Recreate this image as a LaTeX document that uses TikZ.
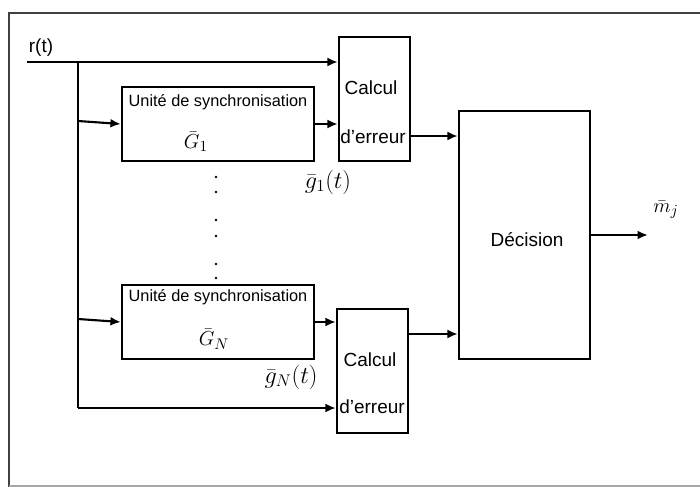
\documentclass[tikz,border=0pt]{standalone}
\usepackage{amsmath, amssymb}
\usepackage{fontspec}
\setmainfont{Liberation Sans}
\usetikzlibrary{arrows.meta}

\begin{document}
\begin{tikzpicture}[x=0.025cm, y=-0.025cm,
  bloc/.style={draw, line width=1.6pt, inner sep=0},
  fl/.style={line width=1.5pt, -{Latex[length=2.6mm, width=2.2mm]}},
  txt/.style={inner sep=0, font=\fontsize{13.5}{15}\selectfont},
  petit/.style={inner sep=0, font=\fontsize{11.6}{13}\selectfont},
  maths/.style={inner sep=0, font=\fontsize{18}{20}\selectfont}]
  \useasboundingbox (0,0) rectangle (700,487);
  % cadre
  \draw[line width=2pt, black!75] (8,13) -- (700,13);
  \draw[line width=2pt, black!75] (9,13) -- (9,487);
  \draw[line width=1pt, black!35] (9,486) -- (700,486);

  % blocs
  \node[bloc, minimum width=4.8cm, minimum height=1.85cm] (s1) at (218,124) {};
  \node[bloc, minimum width=4.8cm, minimum height=1.85cm] (sN) at (218,322) {};
  \node[bloc, minimum width=1.775cm, minimum height=3.1cm] (c1) at (374.5,99) {};
  \node[bloc, minimum width=1.775cm, minimum height=3.1cm] (cN) at (372.5,371) {};
  \node[bloc, minimum width=3.275cm, minimum height=6.2cm] (dec) at (524.5,235) {};

  % textes
  \node[petit] (t1) at (218,102) {Unité de synchronisation};
  \node[petit] (tN) at (218,297) {Unité de synchronisation};
  \node[maths, font=\fontsize{15}{17}\selectfont] (G1) at (196,142) {$\bar{G}_1$};
  \node[maths, font=\fontsize{15}{17}\selectfont] (GN) at (214,339) {$\bar{G}_N$};
  \node[txt] (ca1) at (371,88) {Calcul};
  \node[txt] (er1) at (373,137) {d'erreur};
  \node[txt] (caN) at (370,360) {Calcul};
  \node[txt] (erN) at (372,407) {d'erreur};
  \node[txt] (d) at (527,240) {Décision};
  \node[txt] (r) at (41,48) {r(t)};
  \node[maths] (g1) at (328,182) {$\bar{g}_1(t)$};
  \node[maths] (gN) at (291,377) {$\bar{g}_N(t)$};
  \node[maths, font=\fontsize{15}{17}\selectfont] (m) at (666,210) {$\bar{m}_j$};

  % points de suspension
  \foreach \y in {177,192,220,236,264,278}
    \fill (216,\y) circle (0.035cm);

  % liaisons
  \coordinate (in) at (27,62);
  \coordinate (j) at (78,62);
  \coordinate (bas) at (78,408);
  \coordinate (a1) at (78,121);
  \coordinate (aN) at (78,319);
  \coordinate (c1o) at (410,136);
  \coordinate (cNo) at (408,334);
  \coordinate (sor) at (648,235);
  \draw[line width=1.5pt] (in) -- (j) -- (bas);
  \draw[fl] (j) -- (j -| c1.west);
  \draw[fl] (a1) -- (s1.west);
  \draw[fl] (aN) -- (sN.west);
  \draw[fl] (s1.east) -- (s1.east -| c1.west);
  \draw[fl] (sN.east) -- (sN.east -| cN.west);
  \draw[fl] (bas) -- (bas -| cN.west);
  \draw[fl] (c1o) -- (c1o -| dec.west);
  \draw[fl] (cNo) -- (cNo -| dec.west);
  \draw[fl] (dec.east) -- (sor);
\end{tikzpicture}
\end{document}
